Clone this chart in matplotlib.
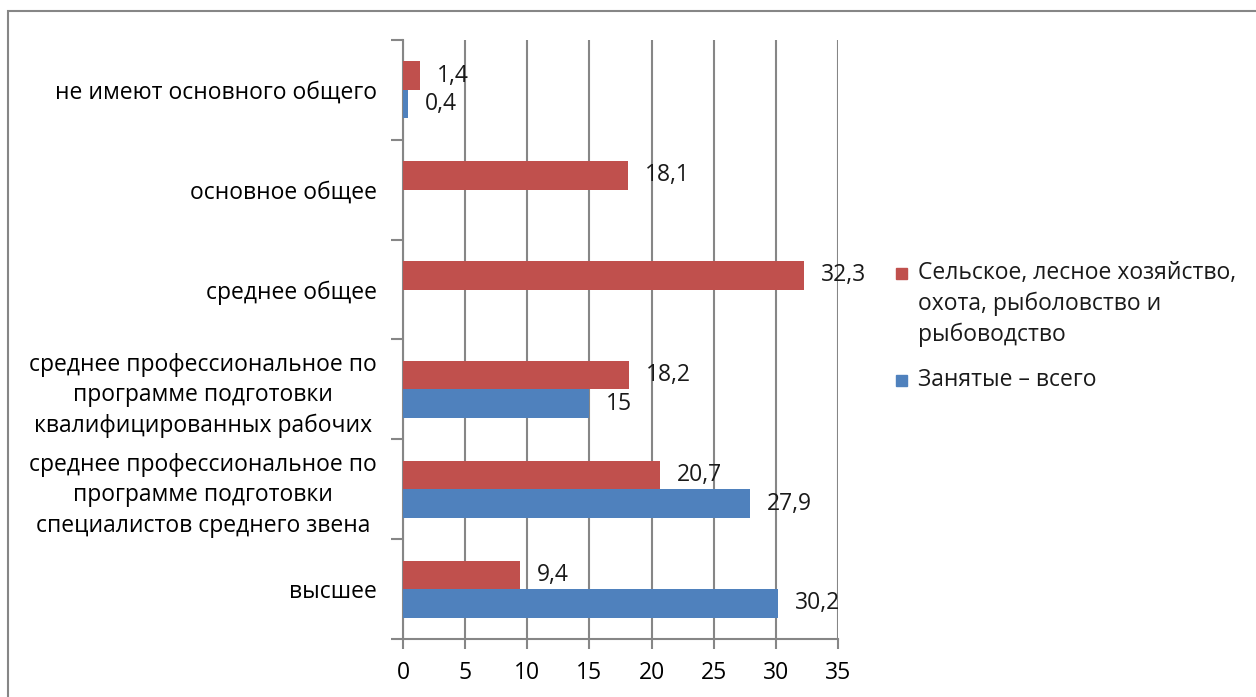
import numpy as np
import matplotlib
matplotlib.use('Agg')
import matplotlib.pyplot as plt
from matplotlib.patches import Rectangle

plt.rcParams['font.family'] = ['Open Sans', 'DejaVu Sans']

# категории снизу вверх
categories = [
    'высшее',
    'среднее профессиональное по\nпрограмме подготовки\nспециалистов среднего звена',
    'среднее профессиональное по\nпрограмме подготовки\nквалифицированных рабочих',
    'среднее общее',
    'основное общее',
    'не имеют основного общего',
]
agri = [9.4, 20.7, 18.2, 32.3, 18.1, 1.4]
total = [30.2, 27.9, 15, np.nan, np.nan, 0.4]
agri_name = ['Сельское, лесное хозяйство,', 'охота, рыболовство и', 'рыбоводство']
total_name = ['Занятые – всего']

red = '#C0504D'
blue = '#4F81BD'
gray = '#868686'
fs = 16.5

fig = plt.figure(figsize=(12.56, 6.97), dpi=100)
fig.patches.append(Rectangle((8 / 1256, -0.1), 1.2, 1.1 - 11 / 697, transform=fig.transFigure,
                             fill=False, edgecolor=gray, linewidth=1.5))
ax = fig.add_axes([403 / 1256, 1 - 639 / 697, 435 / 1256, 599 / 697])

y = np.arange(len(categories))
h = 0.2857
ax.barh(y + h / 2, agri, height=h, color=red, zorder=3)
ax.barh(y - h / 2, total, height=h, color=blue, zorder=3)


def fmt(v):
    s = ('%.1f' % v).replace('.', ',')
    return s[:-2] if s.endswith(',0') else s


for yi, v in zip(y, agri):
    ax.annotate(fmt(v), (v, yi + h / 2), xytext=(12, 0), textcoords='offset points',
                va='center', ha='left', fontsize=fs, color='#1a1a1a')
for yi, v in zip(y, total):
    if not np.isnan(v):
        ax.annotate(fmt(v), (v, yi - h / 2), xytext=(12, 0), textcoords='offset points',
                    va='center', ha='left', fontsize=fs, color='#1a1a1a')

ax.set_xlim(0, 35)
ax.set_ylim(-0.5, 5.5)
ax.set_xticks(range(0, 36, 5))
ax.set_yticks(y)
ax.set_yticklabels(categories, fontsize=fs, multialignment='center', linespacing=1.35)
ax.set_yticks(np.arange(-0.5, 6, 1), minor=True)
ax.tick_params(axis='y', which='major', length=0, pad=19)
ax.tick_params(axis='y', which='minor', length=9, color=gray, width=1.5)
ax.tick_params(axis='x', length=7, color=gray, width=1.5, labelsize=fs, pad=9)
ax.grid(axis='x', color=gray, linewidth=1.5, zorder=0)
for s in ['top', 'right']:
    ax.spines[s].set_visible(False)
for s in ['left', 'bottom']:
    ax.spines[s].set_color(gray)
    ax.spines[s].set_linewidth(1.5)

# легенда: квадрат у первой строки подписи
def legend_item(lines, color, y0):
    fig.patches.append(Rectangle((896 / 1256, 1 - (y0 + 6) / 697), 11 / 1256, 11 / 697,
                                 transform=fig.transFigure, color=color))
    for i, line in enumerate(lines):
        fig.text(918 / 1256, 1 - (y0 + 31 * i) / 697, line, fontsize=fs,
                 va='center', ha='left', color='#1a1a1a')


legend_item(agri_name, red, 273)
legend_item(total_name, blue, 380)

fig.savefig('out.png', dpi=100)
